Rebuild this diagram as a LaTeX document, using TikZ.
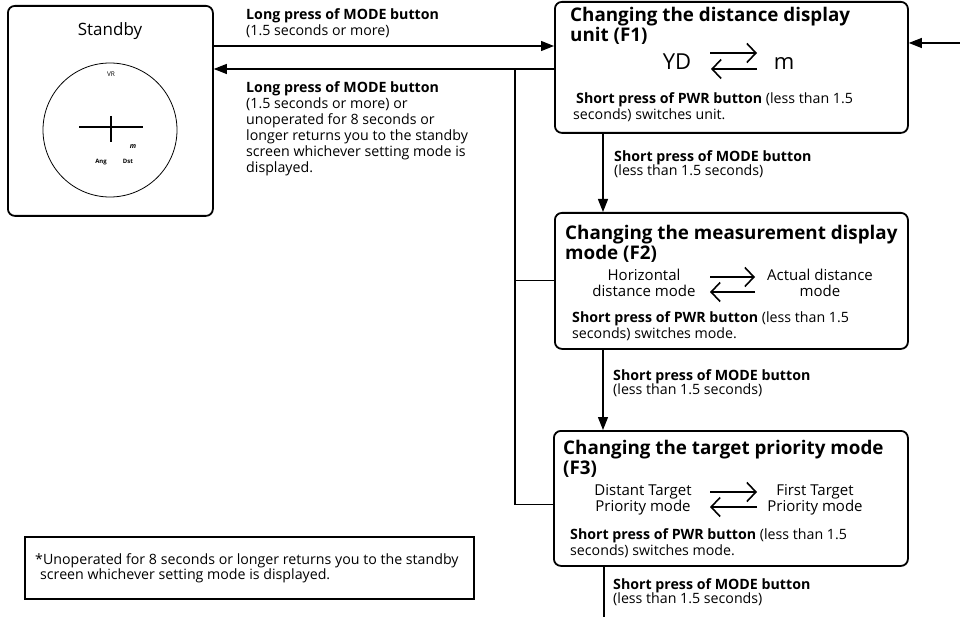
\documentclass[tikz,border=0pt]{standalone}
\usepackage{fontspec}
\setmainfont{Open Sans}
\usetikzlibrary{arrows.meta}

\tikzset{
  panel/.style={draw, line width=1.8pt, rounded corners=7pt, inner sep=0pt, anchor=north west},
  flow/.style={line width=1.2pt, -{Triangle[length=13pt,width=10pt]}},
  wire/.style={line width=1.2pt},
  swap/.style={line width=1.6pt, -{Straight Barb[length=9pt,width=19pt]}},
  note/.style={inner sep=0pt, anchor=north west, align=left, font=\fontsize{14.2}{16}\selectfont},
  tight/.style={note, font=\fontsize{14.2}{14.5}\selectfont},
  title/.style={inner sep=0pt, anchor=north west, align=left, font=\fontsize{18.8}{20}\selectfont\bfseries},
  choice/.style={inner sep=0pt, anchor=north, align=center, font=\fontsize{15}{16}\selectfont},
  tiny/.style={inner sep=0pt, anchor=base, font=\fontsize{6}{6}\selectfont\bfseries},
}

\begin{document}
\begin{tikzpicture}[x=1pt,y=-1pt]

    \useasboundingbox (0,0) rectangle (960,617);

    % standby screen
    \node[panel, minimum width=205pt, minimum height=210pt] (standby) at (7,5) {};
    \node[inner sep=0pt, anchor=base, font=\fontsize{17}{17}\selectfont] (sbtitle) at (110,36) {Standby};
    \draw[line width=0.8pt] (110,130) circle[radius=67pt];
    \node[tiny, font=\fontsize{6.5}{6.5}\selectfont] (vr) at (111,77) {VR};
    \node[tiny, font=\fontsize{7}{7}\selectfont\bfseries\itshape] (unitm) at (133,149) {m};
    \node[tiny] (ang) at (101,164) {Ang};
    \node[tiny] (dst) at (128,164) {Dst};
    \draw[line width=1.5pt] (79,127) -- (143,127);
    \draw[line width=1.5pt] (111,116) -- (111,142);

    % setting modes
    \node[panel, minimum width=353pt, minimum height=131pt] (fone) at (554,1) {};
    \node[panel, minimum width=353pt, minimum height=136pt] (ftwo) at (554,212) {};
    \node[panel, minimum width=354pt, minimum height=135pt] (fthree) at (553,430) {};

    \node[title] (fonetitle) at (570,7.5) {Changing the distance display\\unit (F1)};
    \node[inner sep=0pt, anchor=base, font=\fontsize{22}{22}\selectfont] (yd) at (677,70) {YD};
    \node[inner sep=0pt, anchor=base, font=\fontsize{22}{22}\selectfont] (meter) at (784,70) {m};
    \draw[swap] (710,53) -- (757,53);
    \draw[swap] (757,69) -- (711,69);
    \node[note] (fonepwr) at (573,92) {\hspace{3pt}\textbf{Short press of PWR button} (less than 1.5\\seconds) switches unit.};

    \node[title] (ftwotitle) at (565,225.5) {Changing the measurement display\\mode (F2)};
    \node[choice] (horiz) at (644,269) {Horizontal\\distance mode};
    \node[choice] (actual) at (820,269) {Actual distance\\mode};
    \draw[swap] (710,277) -- (755,277);
    \draw[swap] (755,292) -- (710,292);
    \node[note] (ftwopwr) at (572,311) {\textbf{Short press of PWR button} (less than 1.5\\seconds) switches mode.};

    \node[title] (fthreetitle) at (563,440.5) {Changing the target priority mode\\(F3)};
    \node[choice] (distant) at (643,484) {Distant Target\\Priority mode};
    \node[choice] (first) at (815,484) {First Target\\Priority mode};
    \draw[swap] (710,492) -- (757,492);
    \draw[swap] (757,507) -- (710,507);
    \node[note] (fthreepwr) at (570,528) {\textbf{Short press of PWR button} (less than 1.5\\seconds) switches mode.};

    % connectors
    \coordinate (go) at (0,46);
    \coordinate (back) at (515,69);
    \coordinate (fromright) at (960,43);
    \coordinate (spine) at (603,0);
    \coordinate (exit) at (604,617);

    \draw[flow] (standby.east |- go) -- (fone.west |- go);
    \draw[flow] (fone.west |- back) -- (standby.east |- back);
    \draw[wire] (back) |- ([yshift=-6pt]fthree.west);
    \draw[wire] (back |- ftwo.west) -- (ftwo.west);
    \draw[flow] (fromright) -- (fone.east |- fromright);
    \draw[flow] (fone.south -| spine) -- (ftwo.north -| spine);
    \draw[flow] (ftwo.south -| spine) -- (fthree.north -| spine);
    \draw[wire] (fthree.south -| exit) -- (exit);

    \node[note] (golabel) at (246,8) {\textbf{Long press of MODE button}\\(1.5 seconds or more)};
    \node[note] (backlabel) at (246,81) {\textbf{Long press of MODE button}\\(1.5 seconds or more) or\\unoperated for 8 seconds or\\longer returns you to the standby\\screen whichever setting mode is\\displayed.};
    \node[tight] (onetwo) at (614,150) {\textbf{Short press of MODE button}\\(less than 1.5 seconds)};
    \node[tight] (twothree) at (613,369) {\textbf{Short press of MODE button}\\(less than 1.5 seconds)};
    \node[tight] (threeout) at (613,578) {\textbf{Short press of MODE button}\\(less than 1.5 seconds)};

    % footnote
    \node[draw, line width=2pt, inner sep=0pt, anchor=north west, minimum width=449pt, minimum height=62pt] (memo) at (24,536) {};
    \node[note, font=\fontsize{14.2}{15}\selectfont] (memotext) at (35,553) {*Unoperated for 8 seconds or longer returns you to the standby\\\hspace{5pt}screen whichever setting mode is displayed.};

\end{tikzpicture}
\end{document}
